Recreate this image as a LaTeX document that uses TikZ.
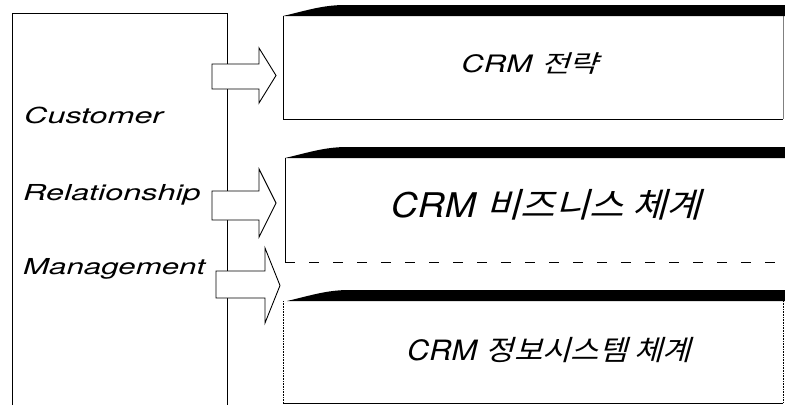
\documentclass[tikz,border=0pt]{standalone}
\usepackage{fontspec}
\setmainfont{TeX Gyre Heros}
\newfontfamily\krfont[FakeSlant=0.25]{Noto Sans CJK KR}
\begin{document}
\begin{tikzpicture}[x=1pt,y=-1pt,
  frameline/.style={line width=0.9pt},
  boxline/.style={line width=0.6pt},
  blockarrow/.style={draw=black,fill=white,line width=0.9pt,line join=miter},
  bar/.style={fill=black},
  lefttext/.style={anchor=base west,inner sep=0pt,font=\fontsize{22}{26}\selectfont\itshape},
  boxtext/.style={anchor=center,inner sep=0pt}]
\useasboundingbox (0,0) rectangle (785,405);
% left frame
\coordinate (lbl) at (12,405);
\coordinate (ltl) at (12,13);
\coordinate (ltr) at (227,13);
\coordinate (lbr) at (227,405);
\draw[frameline] (lbl) -- (ltl) -- (ltr) -- (lbr);
\node[lefttext] (cust) at (24,123) {\scalebox{1.47}[1]{Customer}};
\node[lefttext] (rel) at (23,200) {\scalebox{1.47}[1]{Relationship}};
\node[lefttext] (mgmt) at (23,274) {\scalebox{1.42}[1]{Management}};
% right boxes
\draw[boxline] (283,16) -- (283,119) -- (783,119);
\draw[boxline,gray] (783,16) -- (783,119);
\fill[bar] (283,16) .. controls (305,11) and (322,5) .. (345,5) -- (785,5) -- (785,16) -- cycle;
\draw[boxline] (285,158) -- (285,262);
\draw[boxline,dashed,dash pattern=on 10pt off 14pt] (285,262) -- (783,262);
\fill[bar] (285,158) .. controls (307,153) and (324,147) .. (347,147) -- (785,147) -- (785,158) -- cycle;
\draw[boxline,densely dotted] (283,301) -- (283,403);
\draw[boxline] (283,403) -- (783,403);
\draw[boxline,densely dotted] (783,301) -- (783,403);
\fill[bar] (287,301) .. controls (309,296) and (326,290) .. (349,290) -- (785,290) -- (785,301) -- cycle;
% texts
\node[boxtext] (t1) at (530,64) {\fontsize{24}{28}\selectfont\scalebox{1.3}[1]{\itshape CRM \krfont 전략}};
\node[boxtext] (t2) at (546,205) {\fontsize{34}{38}\selectfont\scalebox{1.1}[1]{\itshape CRM \krfont 비즈니스 체계}};
\node[boxtext] (t3) at (549,350) {\fontsize{28}{32}\selectfont\scalebox{1.1}[1]{\itshape CRM \krfont 정보시스템 체계}};
% arrows
\draw[blockarrow] (212,64) -- (259,64) -- (259,48) -- (276,75.5) -- (259,103) -- (259,89) -- (212,89) -- cycle;
\draw[blockarrow] (212,191) -- (259,191) -- (259,169) -- (276,203) -- (259,237) -- (259,220) -- (212,220) -- cycle;
\draw[blockarrow] (216,271) -- (265,271) -- (265,248) -- (280,285.5) -- (265,323) -- (265,298) -- (216,298) -- cycle;
\end{tikzpicture}
\end{document}
